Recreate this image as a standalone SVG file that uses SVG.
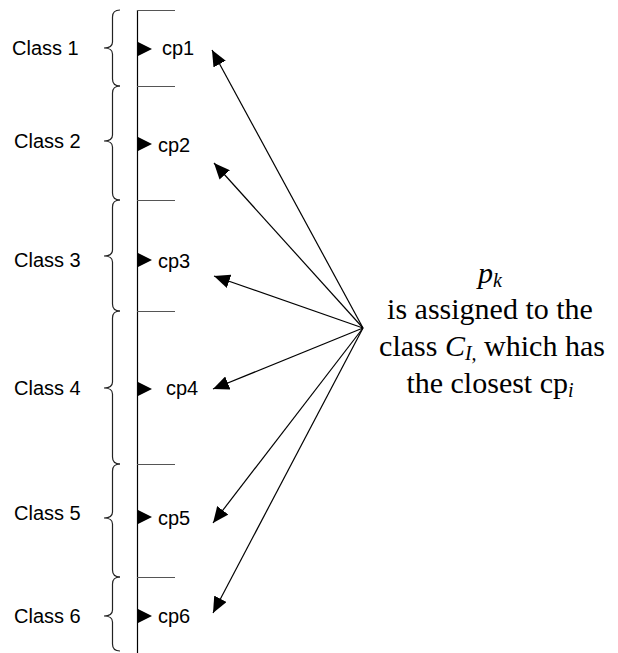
<svg xmlns="http://www.w3.org/2000/svg" width="618" height="653" viewBox="0 0 618 653">
<defs>
<style>
.lbl{font-family:"Liberation Sans",Arial,sans-serif;font-size:20px;fill:#000}
.brace{fill:none;stroke:#222;stroke-width:1.2}
.tick{stroke:#555;stroke-width:1.2}
.axis{stroke:#000;stroke-width:1.2}
.tri{fill:#000}
.conn{stroke:#000;stroke-width:1.2;fill:none;marker-end:url(#ah)}
.note{font-size:30px;fill:#000;text-anchor:middle}
</style>
<marker id="ah" markerUnits="userSpaceOnUse" markerWidth="18" markerHeight="14" refX="16" refY="7" orient="auto">
<path d="M0,0 L16,7 L0,14 z" fill="#000"/>
</marker>
</defs>
<line class="axis" x1="137.5" y1="10" x2="137.5" y2="653"/>
<g id="ticks">
<line class="tick" x1="137" y1="10.5" x2="175" y2="10.5"/>
<line class="tick" x1="137" y1="86.5" x2="175" y2="86.5"/>
<line class="tick" x1="137" y1="200.5" x2="175" y2="200.5"/>
<line class="tick" x1="137" y1="311.5" x2="175" y2="311.5"/>
<line class="tick" x1="137" y1="464.5" x2="175" y2="464.5"/>
<line class="tick" x1="137" y1="577.5" x2="175" y2="577.5"/>
</g>
<g id="class1">
<path class="brace" d="M120,10 C115,10 112.5,12 112.5,17 L112.5,42 C112.5,46 109,48 104,48 C109,48 112.5,50 112.5,54 L112.5,79 C112.5,84 115,86 120,86"/>
<text class="lbl" x="12" y="55">Class 1</text>
<polygon class="tri" points="138,42 152,49 138,56"/>
<text class="lbl" x="162" y="55">cp1</text>
</g>
<g id="class2">
<path class="brace" d="M120,86 C115,86 112.5,88 112.5,93 L112.5,135 C112.5,139 109,141 104,141 C109,141 112.5,143 112.5,147 L112.5,193 C112.5,198 115,200 120,200"/>
<text class="lbl" x="14" y="148">Class 2</text>
<polygon class="tri" points="138,137 152,144 138,151"/>
<text class="lbl" x="158" y="152">cp2</text>
</g>
<g id="class3">
<path class="brace" d="M120,200 C115,200 112.5,202 112.5,207 L112.5,250 C112.5,254 109,256 104,256 C109,256 112.5,258 112.5,262 L112.5,304 C112.5,309 115,311 120,311"/>
<text class="lbl" x="14" y="267">Class 3</text>
<polygon class="tri" points="138,253 152,260 138,267"/>
<text class="lbl" x="158" y="268">cp3</text>
</g>
<g id="class4">
<path class="brace" d="M120,311 C115,311 112.5,313 112.5,318 L112.5,382 C112.5,386 109,388 104,388 C109,388 112.5,390 112.5,394 L112.5,457 C112.5,462 115,464 120,464"/>
<text class="lbl" x="14" y="395">Class 4</text>
<polygon class="tri" points="138,382 152,389 138,396"/>
<text class="lbl" x="166" y="395">cp4</text>
</g>
<g id="class5">
<path class="brace" d="M120,464 C115,464 112.5,466 112.5,471 L112.5,512 C112.5,516 109,518 104,518 C109,518 112.5,520 112.5,524 L112.5,570 C112.5,575 115,577 120,577"/>
<text class="lbl" x="14" y="520">Class 5</text>
<polygon class="tri" points="138,510 152,517 138,524"/>
<text class="lbl" x="158" y="525">cp5</text>
</g>
<g id="class6">
<path class="brace" d="M120,577 C115,577 112.5,579 112.5,584 L112.5,610 C112.5,614 109,616 104,616 C109,616 112.5,618 112.5,622 L112.5,644 C112.5,649 115,651 120,651"/>
<text class="lbl" x="14" y="623">Class 6</text>
<polygon class="tri" points="138,609 152,616 138,623"/>
<text class="lbl" x="158" y="623">cp6</text>
</g>
<g id="connectors">
<line class="conn" x1="363" y1="328" x2="212" y2="50"/>
<line class="conn" x1="363" y1="328" x2="214" y2="163"/>
<line class="conn" x1="363" y1="328" x2="214" y2="276"/>
<line class="conn" x1="363" y1="328" x2="213" y2="389"/>
<line class="conn" x1="363" y1="328" x2="213" y2="523"/>
<line class="conn" x1="363" y1="328" x2="213" y2="613"/>
</g>
<g id="note" font-family="'Liberation Serif', 'Times New Roman', 'DejaVu Serif', serif">
<text class="note" x="490" y="283"><tspan font-style="italic">p</tspan><tspan font-style="italic" font-size="20" dy="4">k</tspan></text>
<text class="note" x="490" y="319">is assigned to the</text>
<text class="note" x="492" y="356">class <tspan font-style="italic">C</tspan><tspan font-style="italic" font-size="20" dy="4">I,</tspan><tspan dy="-4"> which has</tspan></text>
<text class="note" x="490" y="393">the closest cp<tspan font-style="italic" font-size="20" dy="4">i</tspan></text>
</g>
</svg>
